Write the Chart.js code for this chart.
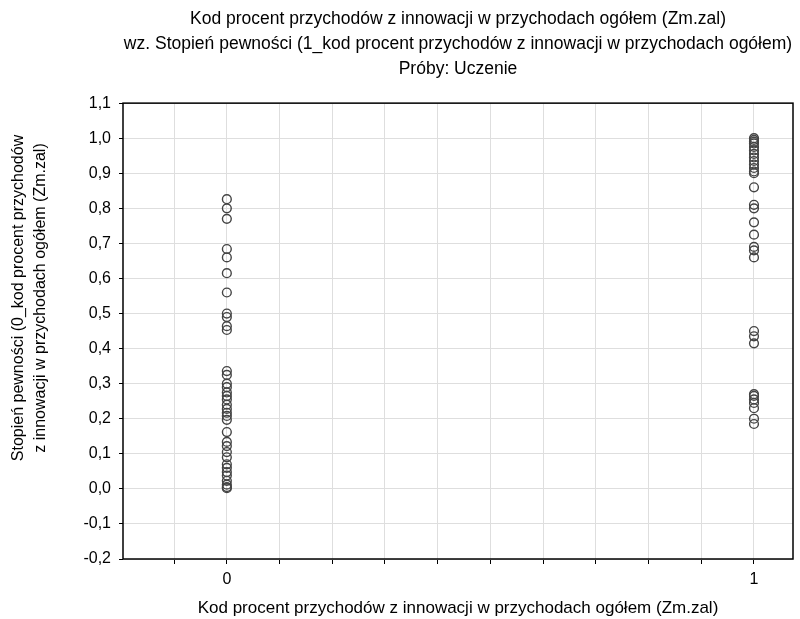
<!DOCTYPE html>
<html>
<head>
<meta charset="utf-8">
<script src="https://cdn.jsdelivr.net/npm/chart.js@4/dist/chart.umd.min.js"></script>
<style>
  html, body { margin: 0; padding: 0; background: #fff; }
  #wrap { width: 800px; height: 619px; }
</style>
</head>
<body>
<div id="wrap"><canvas id="myChart"></canvas></div>
<script>
// group codes on the x axis
var groupZero = 0;
var groupOne = 1;

// certainty values read for class 0
var valuesZero = [0.826, 0.80, 0.77, 0.684, 0.66, 0.615, 0.56, 0.50, 0.49, 0.464, 0.453,
  0.336, 0.325, 0.30, 0.29, 0.275, 0.265, 0.255, 0.24, 0.228, 0.217, 0.208, 0.197,
  0.162, 0.134, 0.122, 0.105, 0.09, 0.07, 0.06, 0.048, 0.038, 0.023, 0.012, 0.005, 0.002];

// certainty values read for class 1
var valuesOne = [1.0, 0.995, 0.99, 0.985, 0.975, 0.965, 0.955, 0.945, 0.935, 0.925, 0.915,
  0.905, 0.90, 0.86, 0.81, 0.80, 0.76, 0.725, 0.69, 0.68, 0.66,
  0.45, 0.435, 0.415, 0.27, 0.265, 0.255, 0.245, 0.23, 0.20, 0.185];

var xTicks = [-0.1, 0, 0.1, 0.2, 0.3, 0.4, 0.5, 0.6, 0.7, 0.8, 0.9, 1.0];
var xLabels = { "0": "0", "1": "1" };

var titleLines = [
  "Kod procent przychodów z innowacji w przychodach ogółem (Zm.zal)",
  "wz. Stopień pewności (1_kod procent przychodów z innowacji w przychodach ogółem)",
  "Próby: Uczenie"
];
var xTitle = "Kod procent przychodów z innowacji w przychodach ogółem (Zm.zal)";
var yTitle = ["Stopień pewności (0_kod procent przychodów", "z innowacji w przychodach ogółem (Zm.zal)"];

function toPoints(xv, arr) {
  return arr.map(function (v) { return { x: xv, y: v }; });
}
var allPoints = toPoints(groupZero, valuesZero).concat(toPoints(groupOne, valuesOne));

// frame round the plot area
var framePlugin = {
  id: "frame",
  afterDatasetsDraw: function (chart) {
    var a = chart.chartArea, c = chart.ctx;
    c.save();
    c.strokeStyle = "#000";
    c.lineWidth = 1.5;
    c.strokeRect(a.left, a.top, a.right - a.left, a.bottom - a.top);
    c.restore();
  }
};

// y title sits a bit above the middle of the plot in the original
var yTitlePlugin = {
  id: "yTitle",
  afterDraw: function (chart) {
    var c = chart.ctx;
    c.save();
    c.fillStyle = "#000";
    c.font = "16px 'Liberation Sans', Arial";
    c.textAlign = "center";
    c.textBaseline = "middle";
    c.translate(0, 298);
    c.rotate(-Math.PI / 2);
    c.fillText(yTitle[0], 0, 19);
    c.fillText(yTitle[1], 0, 41);
    c.restore();
  }
};

var ctx = document.getElementById("myChart").getContext("2d");
new Chart(ctx, {
  type: "scatter",
  data: {
    datasets: [{
      data: allPoints,
      pointRadius: 4.4,
      pointHoverRadius: 4.4,
      pointBorderWidth: 1.4,
      pointBorderColor: "#444444",
      pointBackgroundColor: "rgba(255,255,255,0)"
    }]
  },
  options: {
    responsive: true,
    maintainAspectRatio: false,
    animation: false,
    layout: { padding: { top: 6, right: 7, left: 6, bottom: 0 } },
    plugins: {
      legend: { display: false },
      tooltip: { enabled: false },
      title: {
        display: true,
        fullSize: false,
        text: titleLines,
        color: "#000",
        font: { family: "Liberation Sans, Arial", size: 17.5, weight: "normal", lineHeight: 1.45 },
        padding: { top: 0, bottom: 21 }
      }
    },
    scales: {
      x: {
        type: "linear",
        min: -0.197,
        max: 1.074,
        afterBuildTicks: function (axis) {
          axis.ticks = xTicks.map(function (v) { return { value: v }; });
        },
        afterFit: function (axis) { axis.height = 60; },
        grid: { color: "#dedede", tickColor: "#000", tickLength: 5, drawTicks: true },
        border: { display: false },
        ticks: {
          color: "#000",
          font: { family: "Liberation Sans, Arial", size: 16 },
          padding: 6,
          autoSkip: false,
          maxRotation: 0,
          callback: function (value) {
            var k = String(Math.round(value * 10) / 10);
            return xLabels[k] !== undefined ? xLabels[k] : "";
          }
        },
        title: {
          display: true,
          text: xTitle,
          color: "#000",
          font: { family: "Liberation Sans, Arial", size: 17 },
          padding: { top: 7, bottom: 0 }
        }
      },
      y: {
        min: -0.2,
        max: 1.1,
        afterBuildTicks: function (axis) {
          var t = [];
          for (var i = -2; i <= 11; i++) t.push({ value: i / 10 });
          axis.ticks = t;
        },
        afterFit: function (axis) { axis.width = 117; },
        grid: { color: "#dedede", tickColor: "#000", tickLength: 4 },
        border: { display: false },
        ticks: {
          color: "#000",
          font: { family: "Liberation Sans, Arial", size: 16 },
          padding: 8,
          callback: function (value) {
            return value.toFixed(1).replace(".", ",");
          }
        },
        title: { display: false }
      }
    }
  },
  plugins: [framePlugin, yTitlePlugin]
});
</script>
</body>
</html>
